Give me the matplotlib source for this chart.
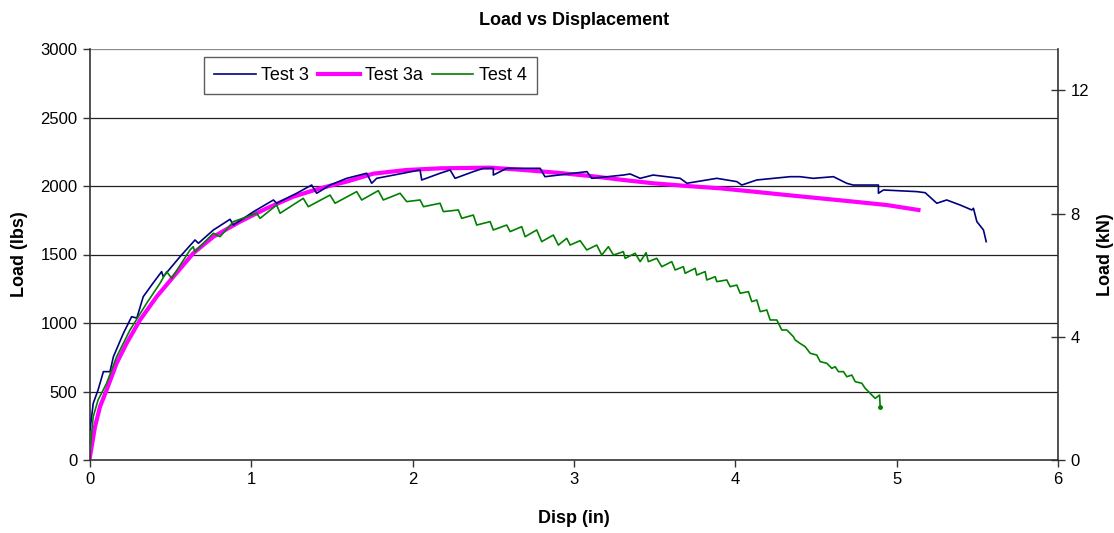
import matplotlib
matplotlib.use("Agg")
import matplotlib.pyplot as plt

plt.rcParams["font.family"] = ["Liberation Sans", "DejaVu Sans"]

# Test 3 (navy)
test3_disp = [0.0, 0.02, 0.05, 0.083, 0.124, 0.145, 0.207, 0.258, 0.29, 0.33,
              0.39, 0.444, 0.454, 0.558, 0.651, 0.672, 0.765, 0.868, 0.889, 1.013,
              1.137, 1.157, 1.281, 1.374, 1.405, 1.488, 1.591, 1.715, 1.746, 1.777,
              2.046, 2.056, 2.17, 2.232, 2.263, 2.376, 2.438, 2.5, 2.5, 2.583,
              2.79, 2.82, 2.997, 3.08, 3.11, 3.306, 3.348, 3.41, 3.49, 3.658,
              3.70, 3.885, 4.009, 4.04, 4.133, 4.34, 4.40, 4.484, 4.608, 4.69,
              4.73, 4.887, 4.887, 4.918, 5.125, 5.177, 5.249, 5.31, 5.394, 5.466,
              5.476, 5.497, 5.538, 5.555]
test3_load = [219, 414, 511, 645, 645, 754, 925, 1046, 1036, 1192,
              1290, 1375, 1338, 1484, 1606, 1582, 1679, 1757, 1715, 1812,
              1898, 1874, 1947, 2007, 1947, 2007, 2056, 2093, 2020, 2056,
              2117, 2044, 2093, 2117, 2056, 2105, 2129, 2129, 2080, 2129,
              2129, 2068, 2093, 2105, 2056, 2080, 2088, 2056, 2080, 2056,
              2020, 2056, 2032, 2007, 2044, 2068, 2068, 2056, 2068, 2020,
              2007, 2007, 1947, 1971, 1959, 1951, 1874, 1898, 1861, 1825,
              1837, 1740, 1679, 1594]

# Test 3a (magenta)
test3a_disp = [0.0, 0.031, 0.062, 0.103, 0.165, 0.227, 0.31, 0.413, 0.517, 0.64,
               0.765, 0.93, 1.095, 1.26, 1.426, 1.591, 1.756, 1.963, 2.17, 2.48,
               2.686, 2.893, 3.10, 3.306, 3.49, 3.70, 3.906, 4.112, 4.319, 4.526,
               4.732, 4.939, 5.135]
test3a_load = [24, 243, 389, 511, 706, 852, 1022, 1192, 1338, 1509,
               1630, 1740, 1837, 1922, 1983, 2032, 2090, 2117, 2129, 2134,
               2117, 2097, 2073, 2044, 2020, 2000, 1983, 1959, 1934, 1910,
               1886, 1861, 1825]

# Test 4 (green)
test4_disp = [0.0, 0.02, 0.05, 0.103, 0.165, 0.248, 0.351, 0.434, 0.475, 0.506,
              0.62, 0.64, 0.65, 0.765, 0.806, 0.889, 1.033, 1.054, 1.157, 1.178,
              1.322, 1.353, 1.488, 1.519, 1.653, 1.684, 1.787, 1.818, 1.922, 1.963,
              2.046, 2.067, 2.17, 2.19, 2.283, 2.304, 2.376, 2.397, 2.48, 2.5,
              2.583, 2.604, 2.676, 2.697, 2.769, 2.80, 2.872, 2.903, 2.955, 2.976,
              3.038, 3.079, 3.141, 3.172, 3.213, 3.245, 3.306, 3.317, 3.379, 3.41,
              3.447, 3.461, 3.513, 3.544, 3.606, 3.627, 3.678, 3.689, 3.751, 3.761,
              3.813, 3.823, 3.875, 3.885, 3.947, 3.968, 4.009, 4.03, 4.081, 4.102,
              4.133, 4.154, 4.195, 4.216, 4.257, 4.288, 4.319, 4.36, 4.371, 4.40,
              4.433, 4.464, 4.505, 4.526, 4.567, 4.598, 4.619, 4.639, 4.67, 4.691,
              4.722, 4.743, 4.784, 4.805, 4.826, 4.846, 4.867, 4.894, 4.898]
test4_load = [73, 316, 438, 560, 754, 949, 1144, 1290, 1375, 1326,
              1533, 1557, 1520, 1655, 1630, 1740, 1801, 1764, 1861, 1801,
              1910, 1849, 1934, 1874, 1959, 1898, 1966, 1898, 1947, 1886,
              1898, 1849, 1874, 1813, 1825, 1764, 1788, 1715, 1740, 1679,
              1715, 1667, 1703, 1630, 1679, 1594, 1642, 1569, 1618, 1569,
              1601, 1533, 1569, 1496, 1557, 1496, 1521, 1472, 1509, 1448,
              1513, 1448, 1472, 1411, 1448, 1387, 1411, 1363, 1399, 1350,
              1375, 1314, 1338, 1302, 1314, 1265, 1277, 1217, 1229, 1156,
              1168, 1083, 1095, 1022, 1022, 949, 949, 900, 876, 852,
              827, 779, 766, 718, 706, 669, 681, 645, 645, 608,
              620, 572, 560, 523, 499, 474, 450, 474, 385]

LBS_TO_KN = 0.0044482
y_ticks_lbs = [0, 500, 1000, 1500, 2000, 2500, 3000]
y_ticks_kn = [0, 4, 8, 12]
x_ticks = [0, 1, 2, 3, 4, 5, 6]

fig = plt.figure(figsize=(11.14, 5.33), dpi=100)
ax = fig.add_axes([90 / 1114, 73 / 533, 968 / 1114, 411 / 533])

for y in y_ticks_lbs[1:]:
    ax.axhline(y, color="#8a8a8a" if y == 3000 else "#222222", lw=0.9, zorder=1)

ax.plot(test3_disp, test3_load, color="#000080", lw=1.2, label="Test 3", zorder=3)
ax.plot(test3a_disp, test3a_load, color="#FF00FF", lw=3, label="Test 3a", zorder=2)
ax.plot(test4_disp, test4_load, color="#008000", lw=1.2, label="Test 4", zorder=4)
ax.plot(test4_disp[-1:], test4_load[-1:], "o", color="#008000", ms=2.5, zorder=4)

ax.set_xlim(0, 6)
ax.set_ylim(0, 3000)
ax.set_xticks(x_ticks)
ax.set_yticks(y_ticks_lbs)
ax.tick_params(axis="both", direction="out", length=5, width=1, labelsize=12,
               color="#333333", pad=4)
ax.spines["top"].set_visible(False)
ax.spines["right"].set_visible(False)
for s in ("left", "bottom"):
    ax.spines[s].set_color("#333333")
    ax.spines[s].set_linewidth(1.2)

ax.set_title("Load vs Displacement", fontsize=13, fontweight="bold", pad=17)
ax.set_xlabel("Disp (in)", fontsize=13, fontweight="bold", labelpad=16)
ax.set_ylabel("Load (lbs)", fontsize=13, fontweight="bold", labelpad=9)

ax2 = ax.twinx()
ax2.set_ylim(0, 3000 * LBS_TO_KN)
ax2.set_yticks(y_ticks_kn)
ax2.tick_params(axis="y", direction="inout", length=10, width=1, labelsize=12,
                color="#333333", pad=4)
for s in ("top", "left", "bottom"):
    ax2.spines[s].set_visible(False)
ax2.spines["right"].set_color("#333333")
ax2.spines["right"].set_linewidth(1.2)
ax2.set_ylabel("Load (kN)", fontsize=13, fontweight="bold", labelpad=6)

leg = ax.legend(loc="upper left", bbox_to_anchor=(0.118, 0.98), ncol=3,
                fontsize=13, frameon=True, fancybox=False, handlelength=2.3,
                handletextpad=0.3, columnspacing=0.5, borderpad=0.55,
                borderaxespad=0)
leg.get_frame().set_edgecolor("#333333")
leg.get_frame().set_linewidth(1)

fig.savefig("out.png", dpi=100)
plt.close(fig)
